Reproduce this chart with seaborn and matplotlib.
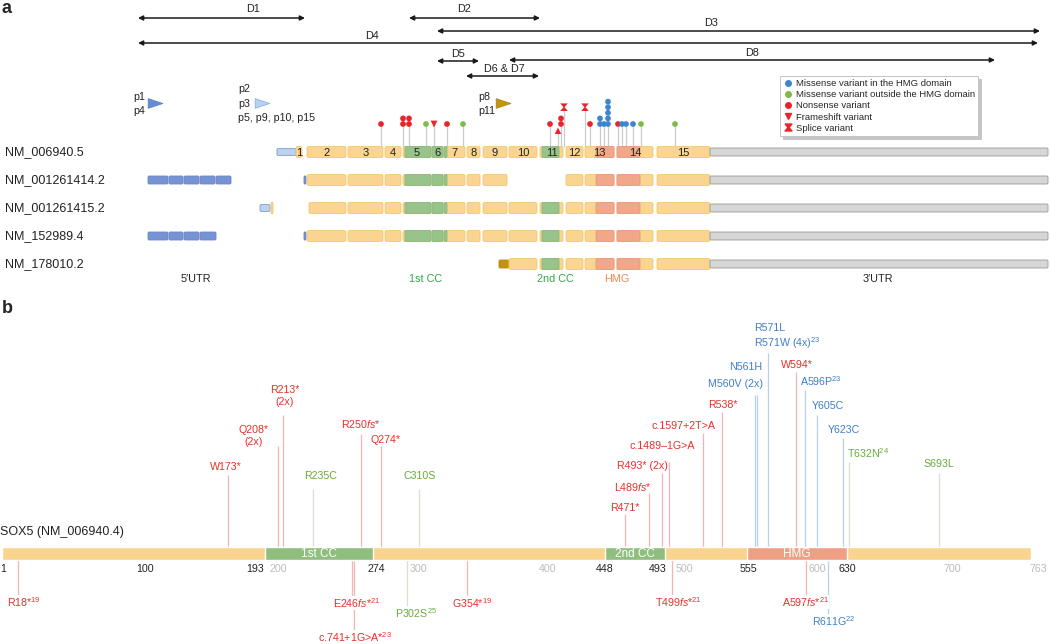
import numpy as np
import pandas as pd
import matplotlib
matplotlib.use("Agg")
from matplotlib import pyplot as plt
from matplotlib.patches import FancyBboxPatch
from matplotlib.path import Path
from matplotlib.lines import Line2D
import seaborn as sns

sns.set_theme(style="white")
plt.rcParams['font.family'] = ['Liberation Sans', 'DejaVu Sans']
plt.rcParams['mathtext.fontset'] = 'custom'
plt.rcParams['mathtext.rm'] = 'Liberation Sans'
plt.rcParams['mathtext.it'] = 'Liberation Sans:italic'
plt.rcParams['mathtext.bf'] = 'Liberation Sans:bold'

# ---------------- panel a data (x = drawing units along the SOX5 locus) ----------------
exon_no = list(range(1, 16))
exon_start = [296, 307, 348, 385, 403, 432, 444, 467, 483, 509, 540, 566, 585, 617, 657]
exon_end = [302, 346, 383, 401, 431, 443, 465, 480, 507, 537, 563, 583, 614, 653, 710]
utr3 = [710, 1048]
cc1_a = [405, 447]
cc2_a = [542, 559]
hmg_a = [596, 640]

transcripts = ['NM_006940.5', 'NM_001261414.2', 'NM_001261415.2', 'NM_152989.4', 'NM_178010.2']
tx_exons = [list(range(1, 16)),
            list(range(2, 10)) + list(range(12, 16)),
            list(range(2, 16)),
            list(range(2, 16)),
            list(range(10, 16))]
# first (non-coding) exons: start, end, kind
tx_first = [[(277, 296, 'light')],
            [(148, 168, 'dark'), (169, 183, 'dark'), (184, 199, 'dark'), (200, 215, 'dark'),
             (216, 231, 'dark'), (304, 306, 'dark')],
            [(260, 270, 'light'), (271, 273, 'exon')],
            [(148, 168, 'dark'), (169, 183, 'dark'), (184, 199, 'dark'), (200, 216, 'dark'),
             (304, 306, 'dark')],
            [(499, 509, 'gold')]]
tx_exon2_start = [307, 307, 309, 307, 307]

deletions = ['D1', 'D2', 'D3', 'D4', 'D5', 'D8', 'D6 & D7']
del_start = [138, 409, 437, 138, 437, 509, 466]
del_end = [305, 540, 1040, 1038, 479, 995, 539]

prom_lines = [['p1', 'p4'], ['p2', 'p3', 'p5, p9, p10, p15'], ['p8', 'p11']]
prom_pos = [155, 262, 503]

# variants shown on NM_006940.5 (x, stack level, type)
lol_x = [381, 403, 403, 409, 409, 426, 434, 447, 463, 550, 558, 561, 561, 564, 585, 590,
         600, 600, 604, 608, 608, 608, 608, 608, 618, 622, 626, 633, 641, 675]
lol_lvl = [0, 0, 1, 0, 1, 0, 0, 0, 0, 0, -1.2, 0, 1, 3, 3, 0,
           0, 1, 0, 0, 1, 2, 3, 4, 0, 0, 0, 0, 0, 0]
lol_kind = ['N', 'N', 'N', 'N', 'N', 'O', 'F', 'N', 'O', 'N', 'Fu', 'N', 'N', 'S', 'S', 'N',
            'H', 'H', 'H', 'H', 'H', 'H', 'H', 'H', 'N', 'H', 'H', 'H', 'O', 'O']

# ---------------- panel b data (amino acids) ----------------
prot_len = 763
domains_b = ['1st CC', '2nd CC', 'HMG']
dom_start = [193, 448, 555]
dom_end = [274, 493, 630]
tick_vals = [1, 100, 193, 200, 274, 300, 400, 448, 493, 500, 555, 600, 630, 700, 763]
tick_major = [1, 100, 193, 274, 448, 493, 555, 630]

var_label = ["W173*", "Q208*\n(2x)", "R213*\n(2x)", "R235C", r"R250$\mathit{fs}$*", "Q274*",
             "C310S", "R471*", r"L489$\mathit{fs}$*", "R493* (2x)", "c.1489\u20131G>A",
             "c.1597+2T>A", "R538*", "M560V (2x)", "N561H", "R571L\nR571W (4x)$^{23}$",
             "W594*", "A596P$^{23}$", "Y605C", "Y623C", "T632N$^{24}$", "S693L",
             "R18*$^{19}$", r"E246$\mathit{fs}$*$^{21}$", "c.741+1G>A*$^{23}$", "P302S$^{25}$",
             "G354*$^{19}$", r"T499$\mathit{fs}$*$^{21}$", r"A597$\mathit{fs}$*$^{21}$",
             "R611G$^{22}$"]
var_pos = [165, 203, 206.5, 229, 265, 280, 308.6, 463.3, 481.3, 491, 496.3, 521.8, 536,
           560.9, 562.4, 570.6, 591.6, 598.4, 607.4, 627, 631.4, 699,
           7.6, 258.3, 259.8, 299.6, 344.6, 498.6, 599.2, 615.7]
var_kind = ['N', 'N', 'N', 'O', 'N', 'N', 'O', 'N', 'N', 'N', 'N', 'N', 'N', 'H', 'H', 'H',
            'N', 'H', 'H', 'H', 'O', 'O',
            'N', 'N', 'N', 'O', 'N', 'N', 'N', 'H']

# ---------------- layout (pixels) ----------------
row_y = [152, 180, 208, 236, 264]
del_y = [18, 18, 31, 43, 61, 60, 76]
del_lab = [(253, 9), (464, 9), (711, 23), (372, 36), (458, 54), (752, 53), (504, 69)]
prom_text_x = [133, 238, 478]
prom_text_y = [[97, 111], [89, 104, 118], [97, 111]]
var_end = [475, 446, 415, 489, 434, 446, 489, 514, 493, 473, 462, 433, 412, 395, 395, 353,
           372, 390, 415, 438, 462, 473,
           595, 598, 632, 607, 595, 596, 596, 615]
var_tx = [226, 254, 285, 321, 361, 385, 420, 625, 633, 642, 662, 683, 723, 735, 746, 754,
          797, 800, 828, 844, 847, 939,
          7, 333, 318, 395, 452, 655, 782, 812]
var_ty = [467, 436, 396, 476, 424, 440, 476, 508, 487, 466, 446, 426, 405, 384, 367, 337,
          365, 381, 406, 430, 453, 464,
          602, 603, 637, 613, 603, 602, 602, 621]
var_ha = ['center'] * 15 + ['left', 'center', 'left', 'center', 'center', 'left', 'center'] + ['left'] * 8
tick_dx = [-6, 4, -10, 4, 3, 11, 7, 0, -7, 10, 1, 10, 0, 12, 14]

RED, BLUE, GREEN = '#e8262a', '#3d85cf', '#7fbb48'
txt_col = {'N': '#e8302a', 'H': '#3f7fcc', 'O': '#6aab3c'}
line_col = {'N': '#f5b4b4', 'H': '#b6d0ee', 'O': '#d9e0cf'}
ORANGE, ORANGE_E = '#f9d591', '#f3c874'
GREEN_F, GREEN_E = '#98c48b', '#8ab97d'
HMG_F, HMG_E = '#f0a78a', '#ea9a7d'

hourglass = Path([(-0.5, 0.5), (0.5, 0.5), (0.07, 0.0), (0.5, -0.5), (-0.5, -0.5), (-0.07, 0.0), (-0.5, 0.5)])
prom_tri = Path([(-0.5, -0.33), (0.5, 0.0), (-0.5, 0.33), (-0.5, -0.33)])

fig = plt.figure(figsize=(10.5, 6.44), dpi=100)
ax = fig.add_axes([0, 0, 1, 1])
ax.set_xlim(0, 1050)
ax.set_ylim(644, 0)
ax.axis('off')


def box(x0, x1, yc, h, fc, ec, r=1.6, z=2):
    ax.add_patch(FancyBboxPatch((x0, yc - h / 2), x1 - x0, h,
                                boxstyle="round,pad=0,rounding_size=%s" % r,
                                fc=fc, ec=ec, lw=0.6, zorder=z))


ax.text(2, 8, 'a', fontsize=13, fontweight='bold', va='center')

# deletions
for name, s, e, y, (lx, ly) in zip(deletions, del_start, del_end, del_y, del_lab):
    ax.annotate('', xy=(e, y), xytext=(s, y),
                arrowprops=dict(arrowstyle='<|-|>', color='#1a1a1a', lw=1.1,
                                mutation_scale=7, shrinkA=0, shrinkB=0))
    ax.text(lx, ly, name, fontsize=7.8, ha='center', va='center', color='#222222')

# promoters
prom_col = ['#6a8dd2', '#b9d1f0', '#c4930f']
prom_ec = ['#5b7fc6', '#8fb0e0', '#b38610']
for lines, x, c, ec, tx, tys in zip(prom_lines, prom_pos, prom_col, prom_ec, prom_text_x, prom_text_y):
    ax.scatter([x], [103], marker=prom_tri, s=110, color=c, edgecolor=ec, linewidth=0.6, zorder=3)
    for line, ty in zip(lines, tys):
        ax.text(tx, ty, line, fontsize=7.7, ha='left', va='center', color='#222222')

# transcripts
small_col = {'light': ('#bcd3ee', '#7fa0cf', 7), 'dark': ('#7693d3', '#6a86c8', 8),
             'gold': ('#c4930f', '#b38610', 8), 'exon': (ORANGE, ORANGE_E, 11)}
for r, name in enumerate(transcripts):
    yc = row_y[r]
    ax.text(5, yc, name, fontsize=9, va='center', ha='left', color='#222222')
    for s, e, kind in tx_first[r]:
        fc, ec, h = small_col[kind]
        box(s, e, yc, h, fc, ec, r=1.2)
    for n in tx_exons[r]:
        s = exon_start[n - 1] if n != 2 else tx_exon2_start[r]
        e = exon_end[n - 1]
        box(s, e, yc, 11, ORANGE, ORANGE_E)
        for (d0, d1), fc, ec in ((cc1_a, GREEN_F, GREEN_E), (cc2_a, GREEN_F, GREEN_E), (hmg_a, HMG_F, HMG_E)):
            o0, o1 = max(s, d0), min(e, d1)
            if o1 > o0:
                box(o0, o1, yc, 11, fc, ec, r=1.2, z=2.5)
        if r == 0:
            ax.text((s + e) / 2, yc + 0.5, str(n), fontsize=8, ha='center', va='center',
                    color='#222222', zorder=4)
    box(utr3[0], utr3[1], yc, 8, '#d6d6d6', '#9a9a9a', r=1.2)

for lab, x, c in (('5\u2032UTR', 196, '#222222'), ('1st CC', 426, '#34a84a'), ('2nd CC', 555, '#34a84a'),
                  ('HMG', 617, '#f08a4e'), ('3\u2032UTR', 878, '#222222')):
    ax.text(x, 279, lab, fontsize=7.8, ha='center', va='center', color=c)

# lollipops on NM_006940.5
lol = pd.DataFrame({'x': lol_x, 'lvl': lol_lvl, 'kind': lol_kind})
lol['y'] = 124 - lol['lvl'] * 5.6
tops = lol.groupby('x')['y'].min()
ax.vlines(tops.index, tops.values, row_y[0] - 5.5, color='#cccccc', lw=0.9, zorder=1)
pal = {'N': RED, 'H': BLUE, 'O': GREEN, 'F': RED, 'Fu': RED, 'S': RED}
mk = {'N': 'o', 'H': 'o', 'O': 'o', 'F': 'v', 'Fu': '^', 'S': hourglass}
sz = {'N': 17, 'H': 17, 'O': 17, 'F': 24, 'Fu': 22, 'S': 30}
sns.scatterplot(data=lol, x='x', y='y', hue='kind', style='kind', size='kind', palette=pal,
                markers=mk, sizes=sz, linewidth=0, legend=False, ax=ax, zorder=3)
ax.set_xlim(0, 1050)
ax.set_ylim(644, 0)
ax.set_xlabel('')
ax.set_ylabel('')

handles = [Line2D([], [], ls='None', marker='o', color=BLUE, markersize=4),
           Line2D([], [], ls='None', marker='o', color=GREEN, markersize=4),
           Line2D([], [], ls='None', marker='o', color=RED, markersize=4),
           Line2D([], [], ls='None', marker='v', color=RED, markersize=4.5),
           Line2D([], [], ls='None', marker=hourglass, color=RED, markersize=5)]
labels = ['Missense variant in the HMG domain', 'Missense variant outside the HMG domain',
          'Nonsense variant', 'Frameshift variant', 'Splice variant']
leg = ax.legend(handles, labels, loc='upper left', bbox_to_anchor=(780 / 1050, 1 - 76 / 644),
                bbox_transform=fig.transFigure, fontsize=6.8, frameon=True, fancybox=False,
                edgecolor='#c4c4c4', handlelength=0.9, handletextpad=0.4, borderpad=0.35,
                labelspacing=0.22, borderaxespad=0,
                shadow={'color': '#c6c6c6', 'alpha': 1})
leg.get_frame().set_linewidth(0.7)

# ---------------- panel b ----------------
scale = 1.332


def to_aa(px):
    return 193 + (px - 265) / scale


axb = fig.add_axes([0, 0, 1, 1])
axb.set_xlim(to_aa(0), to_aa(1050))
axb.set_ylim(644, 0)
axb.axis('off')
axb.patch.set_alpha(0)

axb.text(to_aa(2), 308, 'b', fontsize=13, fontweight='bold', va='center')
axb.text(to_aa(0), 532, 'SOX5 (NM_006940.4)', fontsize=9, va='center', ha='left', color='#222222')

bar_y, bar_h = 553.5, 13
axb.barh(bar_y, prot_len + 9.5, left=1 - 5.5, height=bar_h, color='#f9d48e', zorder=2)
for name, s, e, c in zip(domains_b, dom_start, dom_end, ['#8fbe7e', '#8fbe7e', '#ef9f83']):
    axb.barh(bar_y, e - s, left=s, height=bar_h, color=c, zorder=2.5)
    axb.text((s + e) / 2, bar_y + 0.5, name, fontsize=8.5, color='white', ha='center', va='center', zorder=4)

for v, dx in zip(tick_vals, tick_dx):
    c = '#222222' if v in tick_major else '#bdbdbd'
    axb.text(v + dx / scale, 569, str(v), fontsize=7.7, color=c, ha='center', va='center')

for lab, pos, kind, end, tx, ty, ha in zip(var_label, var_pos, var_kind, var_end, var_tx, var_ty, var_ha):
    if end < bar_y:
        axb.vlines(pos, end, bar_y - bar_h / 2, color=line_col[kind], lw=0.9, zorder=1)
    else:
        axb.vlines(pos, bar_y + bar_h / 2, end, color=line_col[kind], lw=0.9, zorder=1)
    t = axb.text(to_aa(tx), ty, lab, fontsize=7.7, color=txt_col[kind], ha=ha, va='center',
                 multialignment=ha if ha != 'center' else 'center', linespacing=1.25, zorder=3)
    if end > bar_y:
        t.set_bbox(dict(fc='white', ec='none', pad=0.3))

fig.savefig('out.png', dpi=100)
